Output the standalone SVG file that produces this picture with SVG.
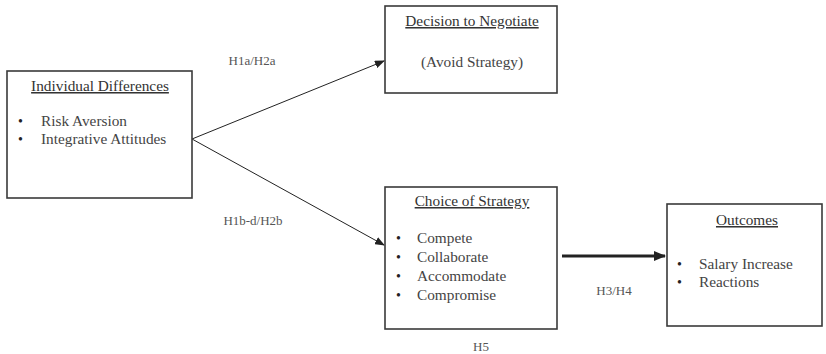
<svg xmlns="http://www.w3.org/2000/svg" width="826" height="354" viewBox="0 0 826 354">
<style>
.box{fill:#fff;stroke:#3a3a3a;stroke-width:1.6}
text{font-family:"Liberation Serif","Times New Roman",serif;font-size:15.3px;fill:#444}
.t{text-anchor:middle;text-decoration:underline;fill:#333}
.c{text-anchor:middle}
.h{font-size:13px;text-anchor:middle;fill:#555}
.b{font-size:14px;fill:#222}
.ln{stroke:#222;stroke-width:1;fill:none}
</style>
<defs>
<marker id="ah" markerWidth="10" markerHeight="8" refX="9" refY="4" orient="auto" markerUnits="userSpaceOnUse">
<path d="M0,0 L10,4 L0,8 Z" fill="#222"/>
</marker>
<marker id="ah2" markerWidth="12" markerHeight="10" refX="11" refY="5" orient="auto" markerUnits="userSpaceOnUse">
<path d="M0,0 L12,5 L0,10 Z" fill="#222"/>
</marker>
</defs>
<g id="connectors">
<line class="ln" x1="192" y1="139" x2="384" y2="61" marker-end="url(#ah)"/>
<line class="ln" x1="192" y1="139" x2="384" y2="245" marker-end="url(#ah)"/>
<line x1="562" y1="256" x2="665" y2="256" stroke="#222" stroke-width="3" marker-end="url(#ah2)"/>
<text class="h" x="252" y="65">H1a/H2a</text>
<text class="h" x="253" y="225">H1b-d/H2b</text>
<text class="h" x="614" y="295">H3/H4</text>
<text class="h" x="481" y="351" font-size="12">H5</text>
</g>
<g id="individual">
<rect class="box" x="7" y="71" width="185" height="127"/>
<text class="t" x="100" y="91">Individual Differences</text>
<text class="b" x="18" y="126">•</text><text x="41" y="126">Risk Aversion</text>
<text class="b" x="18" y="144">•</text><text x="41" y="144">Integrative Attitudes</text>
</g>
<g id="decision">
<rect class="box" x="385" y="6" width="172" height="87"/>
<text class="t" x="472" y="26">Decision to Negotiate</text>
<text class="c" x="472" y="67">(Avoid Strategy)</text>
</g>
<g id="choice">
<rect class="box" x="385" y="187" width="172" height="142"/>
<text class="t" x="472" y="206">Choice of Strategy</text>
<text class="b" x="396" y="243">•</text><text x="417" y="243">Compete</text>
<text class="b" x="396" y="262">•</text><text x="417" y="262">Collaborate</text>
<text class="b" x="396" y="281">•</text><text x="417" y="281">Accommodate</text>
<text class="b" x="396" y="300">•</text><text x="417" y="300">Compromise</text>
</g>
<g id="outcomes">
<rect class="box" x="667" y="204" width="155" height="122"/>
<text class="t" x="747" y="225">Outcomes</text>
<text class="b" x="677" y="269">•</text><text x="699" y="269">Salary Increase</text>
<text class="b" x="677" y="287">•</text><text x="699" y="287">Reactions</text>
</g>
</svg>
